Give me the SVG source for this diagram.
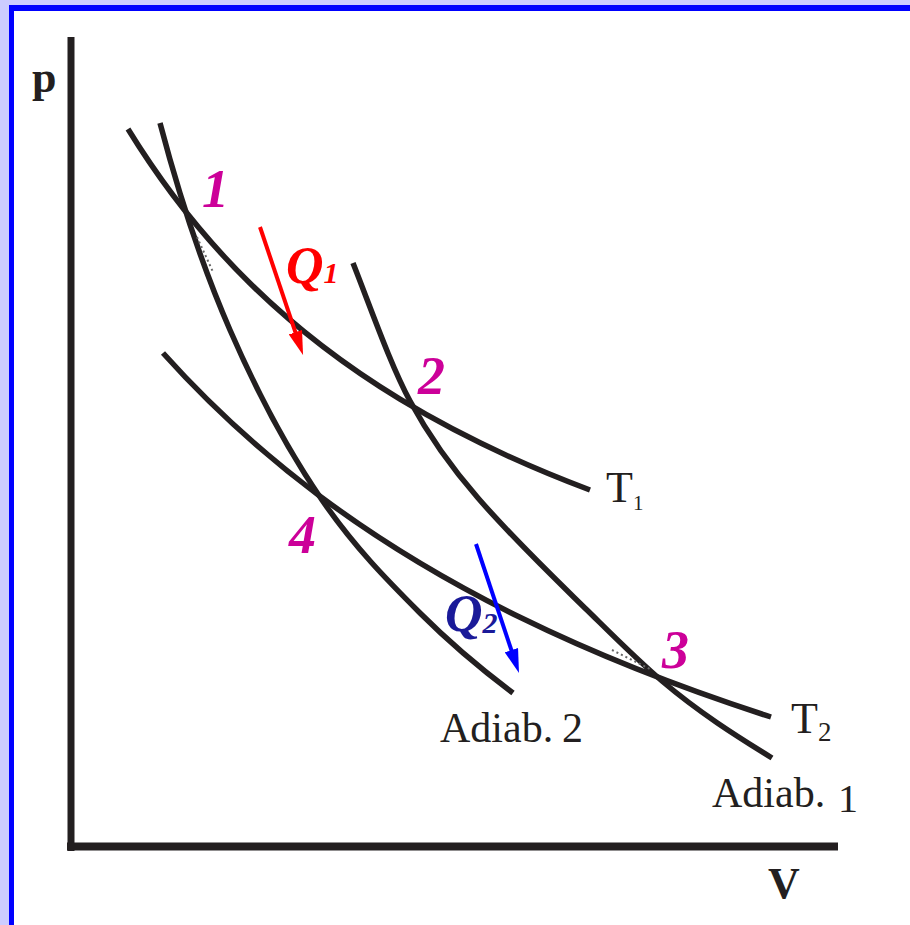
<svg xmlns="http://www.w3.org/2000/svg" width="910" height="925" viewBox="0 0 910 925">
<style>
.curve{fill:none;stroke:#231f20;stroke-width:5.5;stroke-linecap:butt;stroke-linejoin:round}
.axis{fill:none;stroke:#231f20;stroke-width:8}
.dots{fill:none;stroke:#666;stroke-width:2;stroke-dasharray:2 3}
.pt{font-family:"Liberation Serif","Times New Roman",serif;font-weight:bold;font-style:italic;font-size:54px;fill:#cc0099}
.q{font-family:"Liberation Serif","Times New Roman",serif;font-weight:bold;font-style:italic;font-size:52px}
.lbl{font-family:"Liberation Serif","Times New Roman",serif;fill:#231f20}
.ax{font-family:"Liberation Serif","Times New Roman",serif;font-weight:bold;font-size:44px;fill:#231f20}
</style>
<defs>
<marker id="headRed" markerUnits="userSpaceOnUse" markerWidth="24" markerHeight="14" refX="6" refY="7" orient="auto">
<path d="M0,0 L24,7 L0,14 z" fill="#ff0000"/>
</marker>
<marker id="headBlue" markerUnits="userSpaceOnUse" markerWidth="24" markerHeight="14" refX="6" refY="7" orient="auto">
<path d="M0,0 L24,7 L0,14 z" fill="#0000ff"/>
</marker>
</defs>
<rect x="0" y="0" width="910" height="925" fill="#ccccff"/>
<rect x="9" y="5" width="901" height="920" fill="#0000ff"/>
<rect x="14" y="11" width="896" height="914" fill="#ffffff"/>

<g id="axes">
<line class="axis" x1="71" y1="37" x2="71" y2="851" style="stroke-width:7"/>
<line class="axis" x1="67" y1="846.5" x2="838" y2="846.5"/>
<text class="ax" x="32" y="92">p</text>
<text class="ax" x="768" y="898">V</text>
</g>

<g id="isotherm-T1">
<path class="curve" d="M128,129 C168.67,195.1 209.33,243.3 250,283.3 C300,332.5 350,368.85 400,399.2 C463.33,437.6 526.67,466.2 590,490"/>
<text class="lbl" x="606" y="502" font-size="44">T<tspan font-size="21" dy="8">1</tspan></text>
</g>

<g id="isotherm-T2">
<path class="curve" d="M163,353 C215.33,411.35 267.67,457.16 320,496.2 C386.67,545.93 453.33,584.57 520,617.3 C603.67,658.38 687.33,690.1 771,717"/>
<text class="lbl" x="791" y="733" font-size="44">T<tspan font-size="27" dy="8">2</tspan></text>
</g>

<g id="adiabat-1">
<path class="curve" d="M353,263 C372,311.45 391,365.85 410,401 C432.67,442.9 455.33,471.9 478,498 C514.33,539.8 550.67,574.4 587,610 C612,634.5 637,659.75 662,681 C698.67,712.2 735.33,735.3 772,758"/>
<text class="lbl" x="712" y="807" font-size="42">Adiab.</text>
<text class="lbl" x="838" y="812" font-size="40">1</text>
</g>

<g id="adiabat-2">
<path class="curve" d="M160,123 C183.33,211.7 206.67,276.3 230,330 C260.67,400.5 291.33,455.5 322,500 C354.67,547.4 387.33,580.3 420,613 C451,644 482,669.75 513,693"/>
<text class="lbl" x="440" y="742" font-size="42">Adiab.</text>
<text class="lbl" x="562" y="742" font-size="42">2</text>
</g>

<g id="artifacts">
<path class="dots" d="M197,237 L213,272"/>
<path class="dots" d="M612,650 L652,670"/>
</g>

<g id="state-1"><text class="pt" x="202" y="207">1</text></g>
<g id="state-2"><text class="pt" x="418" y="394">2</text></g>
<g id="state-3"><text class="pt" x="662" y="668">3</text></g>
<g id="state-4"><text class="pt" x="289" y="553">4</text></g>

<g id="connectors">
<line x1="260" y1="227" x2="297.3" y2="337.9" stroke="#ff0000" stroke-width="4" marker-end="url(#headRed)"/>
<line x1="476" y1="544" x2="513.3" y2="655.9" stroke="#0000ff" stroke-width="4" marker-end="url(#headBlue)"/>
</g>

<g id="heat-Q1"><text class="q" x="286" y="283" fill="#ff0000">Q<tspan font-size="30">1</tspan></text></g>
<g id="heat-Q2"><text class="q" x="445" y="631" fill="#1a1a99">Q<tspan font-size="30" dy="2">2</tspan></text></g>
</svg>
